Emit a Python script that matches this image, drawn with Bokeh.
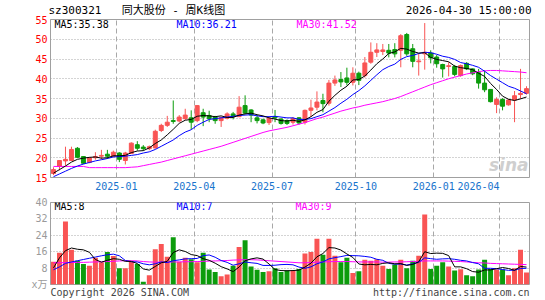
from bokeh.plotting import figure
from bokeh.models import Range1d, FixedTicker, Label, ColumnDataSource, LinearAxis
from bokeh.layouts import column
from bokeh.embed import file_html
from bokeh.resources import INLINE

# ---------------- data (weekly, 80 bars) ----------------
opens = [16.0, 17.8, 19.2, 19.3, 22.4, 20.3, 18.8, 20.0, 20.4, 20.9,
         20.4, 21.2, 19.3, 21.1, 23.3, 22.7, 22.3, 22.5, 26.9, 28.2,
         29.4, 29.3, 29.9, 30.1, 29.4, 31.4, 30.7, 30.3, 29.4, 30.0,
         31.1, 30.4, 33.2, 32.1, 30.1, 29.6, 28.9, 30.4, 29.8, 29.4,
         29.0, 30.1, 29.0, 32.0, 32.8, 34.5, 33.8, 38.9, 39.8, 40.2,
         39.1, 41.4, 40.8, 44.2, 46.7, 46.9, 47.2, 47.4, 47.2, 51.2,
         47.6, 44.3, 46.3, 46.5, 45.5, 43.6, 43.1, 43.1, 40.8, 43.9,
         42.5, 41.5, 38.9, 37.3, 33.5, 34.75, 33.4, 34.6, 36.0, 36.3]
highs = [17.6, 19.4, 22.8, 22.8, 22.7, 20.4, 20.2, 21.4, 22.0, 22.0,
         21.8, 21.4, 21.5, 23.9, 24.2, 23.2, 23.1, 27.1, 28.6, 30.6,
         34.5, 30.8, 32.4, 32.0, 33.3, 32.4, 31.9, 30.6, 30.4, 31.5,
         31.6, 35.6, 35.8, 32.3, 30.8, 29.9, 30.3, 32.1, 30.0, 29.7,
         30.3, 30.3, 32.2, 34.7, 36.8, 36.2, 39.7, 40.8, 41.7, 42.8,
         42.9, 41.8, 45.5, 49.2, 49.0, 48.8, 48.8, 49.0, 51.3, 51.6,
         48.8, 46.3, 54.1, 47.2, 46.0, 43.8, 44.2, 43.5, 43.6, 44.2,
         42.6, 42.5, 42.1, 37.4, 35.3, 35.1, 34.9, 36.9, 42.5, 38.1]
lows = [15.6, 16.8, 18.0, 19.2, 19.9, 18.4, 18.6, 19.5, 19.6, 19.7,
        20.2, 18.9, 18.3, 21.0, 21.8, 21.8, 21.9, 22.3, 26.5, 27.8,
        28.6, 29.0, 29.6, 27.2, 29.0, 28.0, 29.0, 28.6, 27.8, 29.7,
        29.7, 30.3, 31.0, 29.0, 28.7, 28.5, 28.3, 29.0, 28.4, 28.3,
        28.4, 28.4, 28.4, 30.3, 32.0, 31.5, 33.2, 38.2, 37.9, 38.3,
        38.3, 38.4, 40.3, 43.8, 45.5, 46.0, 45.4, 45.4, 42.9, 45.8,
        42.9, 40.8, 42.3, 43.9, 42.8, 40.3, 40.6, 40.6, 40.5, 42.2,
        40.9, 37.5, 36.6, 34.0, 31.3, 32.0, 33.2, 29.0, 34.9, 36.0]
closes = [17.0, 19.3, 19.6, 22.1, 20.1, 18.6, 20.0, 20.3, 20.6, 20.4,
          21.4, 19.6, 21.2, 23.7, 22.4, 22.3, 22.8, 26.7, 28.2, 29.0,
          29.2, 30.3, 30.8, 29.0, 33.2, 30.3, 29.9, 29.4, 30.1, 31.1,
          30.4, 32.8, 31.3, 30.8, 29.4, 28.8, 30.0, 30.1, 28.7, 28.7,
          29.9, 28.8, 32.0, 32.6, 34.1, 33.7, 38.9, 39.7, 39.2, 39.1,
          41.4, 39.6, 44.0, 46.7, 47.3, 47.3, 46.5, 46.3, 50.9, 46.3,
          44.4, 44.5, 46.7, 45.3, 43.8, 42.5, 43.3, 41.1, 43.35, 42.5,
          41.25, 38.9, 37.2, 34.2, 34.75, 33.05, 34.6, 35.7, 36.3, 37.5]
ma5 = [16.1, 17.0, 17.9, 18.9, 19.6, 19.9, 20.1, 20.2, 19.9, 20.0,
       20.5, 20.5, 20.6, 21.3, 21.7, 21.8, 22.5, 23.6, 24.5, 25.8,
       27.2, 28.7, 29.5, 29.7, 30.5, 30.7, 30.6, 30.4, 30.6, 30.2,
       30.2, 30.8, 31.1, 31.3, 30.9, 30.6, 30.1, 29.8, 29.4, 29.3,
       29.5, 29.2, 29.6, 30.4, 31.5, 32.2, 34.3, 35.8, 37.1, 38.1,
       39.7, 39.8, 40.7, 42.2, 43.8, 45.0, 46.4, 46.8, 47.7, 47.5,
       46.9, 46.5, 46.6, 45.4, 44.9, 44.6, 44.3, 43.2, 42.8, 42.6,
       42.3, 41.4, 40.6, 38.8, 37.3, 35.6, 34.8, 34.5, 34.9, 35.38]
ma10 = [15.2, 15.9, 16.6, 17.3, 17.9, 18.4, 18.8, 19.2, 19.5, 19.8,
        20.2, 20.3, 20.4, 20.6, 20.8, 21.2, 21.5, 22.1, 22.9, 23.7,
        24.5, 25.6, 26.5, 27.1, 28.2, 29.0, 29.7, 29.9, 30.1, 30.3,
        30.5, 30.7, 30.8, 30.9, 30.6, 30.4, 30.4, 30.5, 30.3, 30.1,
        30.1, 29.7, 29.7, 29.9, 30.4, 30.9, 31.8, 32.7, 33.8, 34.8,
        36.0, 37.0, 38.2, 39.6, 41.0, 42.3, 43.1, 43.7, 44.9, 45.6,
        45.9, 46.4, 46.7, 46.6, 46.2, 45.7, 45.4, 44.9, 44.1, 43.8,
        43.4, 42.9, 41.9, 40.8, 39.9, 39.0, 38.1, 37.6, 36.9, 36.21]
ma30 = [17.8, 17.8, 17.8, 17.8, 17.8, 17.8, 17.5, 17.5, 17.5, 17.5,
        17.5, 17.5, 17.5, 17.6, 17.7, 18.0, 18.3, 18.6, 18.9, 19.3,
        19.7, 20.1, 20.5, 20.9, 21.3, 21.7, 22.1, 22.5, 22.9, 23.4,
        23.9, 24.4, 24.9, 25.4, 25.9, 26.4, 26.8, 27.1, 27.4, 27.7,
        28.1, 28.5, 28.9, 29.4, 29.9, 30.3, 30.8, 31.3, 31.8, 32.2,
        32.6, 32.9, 33.3, 33.6, 33.9, 34.2, 34.6, 35.0, 35.5, 36.1,
        36.7, 37.3, 37.9, 38.5, 39.0, 39.5, 40.0, 40.4, 40.8, 41.2,
        41.5, 41.8, 42.0, 42.1, 42.1, 42.0, 41.9, 41.8, 41.7, 41.52]
volumes = [11.1, 15.5, 30.7, 16.9, 11.6, 10.0, 9.2, 13.1, 10.8, 15.9,
           13.9, 7.9, 7.9, 11.1, 10.0, 1.3, 4.5, 17.2, 19.8, 13.5,
           23.1, 11.1, 13.1, 12.3, 10.8, 15.5, 7.3, 6.1, 4.0, 4.9,
           9.1, 18.3, 21.6, 8.8, 7.2, 6.1, 6.5, 7.9, 6.1, 6.8,
           6.8, 7.6, 15.1, 15.9, 22.3, 14.5, 22.3, 14.0, 10.8, 13.1,
           5.6, 6.5, 12.1, 11.6, 12.3, 9.2, 7.6, 9.7, 12.1, 7.9,
           11.6, 14.0, 34.2, 7.6, 9.2, 10.8, 8.8, 6.8, 7.5, 4.5,
           4.0, 7.3, 12.1, 7.6, 7.3, 7.3, 4.5, 7.9, 16.9, 5.9]
vol_ma5 = [8.1, 13.0, 16.5, 17.8, 17.2, 16.9, 15.7, 12.2, 10.9, 11.8,
           12.6, 12.3, 11.3, 11.3, 10.2, 7.6, 7.0, 8.8, 10.6, 11.3,
           15.6, 16.9, 16.1, 14.6, 14.1, 12.6, 11.8, 10.4, 8.7, 7.6,
           6.3, 8.5, 11.6, 12.5, 13.0, 12.4, 10.0, 7.3, 6.8, 6.7,
           6.8, 7.0, 8.5, 10.4, 13.5, 15.1, 18.0, 17.8, 16.8, 14.9,
           13.2, 10.0, 9.6, 9.8, 9.6, 10.3, 10.6, 10.1, 10.2, 9.3,
           9.8, 11.1, 16.0, 15.1, 15.3, 15.2, 14.1, 8.6, 8.6, 7.7,
           6.3, 6.0, 7.1, 7.1, 7.7, 8.3, 7.8, 6.9, 8.8, 8.5]
vol_ma10 = [7.2, 8.6, 10.3, 11.0, 11.6, 12.2, 12.8, 13.4, 14.0, 14.5,
            14.8, 14.0, 11.7, 11.1, 11.0, 10.1, 9.6, 10.1, 11.0, 10.7,
            11.6, 12.0, 12.5, 12.6, 12.7, 14.1, 14.4, 13.3, 11.7, 10.8,
            9.4, 10.1, 11.0, 10.6, 10.3, 9.3, 9.3, 9.4, 9.7, 9.8,
            9.6, 8.5, 7.9, 8.6, 10.1, 11.0, 12.5, 13.1, 13.6, 14.2,
            14.1, 14.0, 13.7, 13.3, 12.3, 11.8, 10.3, 9.9, 10.0, 9.5,
            10.1, 10.8, 13.0, 12.6, 12.3, 12.5, 12.6, 12.3, 11.8, 11.5,
            10.7, 10.1, 7.9, 7.9, 7.7, 7.3, 6.9, 7.0, 7.8, 7.9]
vol_ma30 = [10.6, 10.6, 10.7, 10.7, 10.8, 10.8, 10.9, 11.0, 11.1, 11.2,
            11.3, 11.5, 11.6, 11.6, 11.5, 11.2, 11.0, 10.9, 10.9, 10.9,
            11.0, 11.0, 11.1, 11.1, 11.2, 11.3, 11.4, 11.5, 11.6, 11.7,
            11.9, 12.0, 12.1, 12.1, 12.0, 11.8, 11.6, 11.4, 11.2, 11.0,
            10.8, 10.6, 10.6, 10.7, 10.9, 11.0, 11.1, 11.2, 11.2, 11.2,
            11.1, 11.0, 11.0, 11.0, 11.0, 10.9, 10.9, 11.0, 11.0, 11.1,
            11.2, 11.3, 11.5, 11.5, 11.5, 11.5, 11.4, 11.3, 11.2, 11.0,
            10.8, 10.6, 10.5, 10.3, 10.2, 10.1, 10.0, 9.9, 9.8, 9.7]
tick_idx = [11, 24, 37, 51, 64, 75]
tick_labels = ["2025-01", "2025-04", "2025-07", "2025-10", "2026-01", "2026-04"]
price_ticks = [15, 20, 25, 30, 35, 40, 45, 50, 55]
vol_ticks = [0, 8, 16, 24, 32, 40]
vol_unit = "x万"
code = "sz300321"
name = "同大股份 - 周K线图"
stamp = "2026-04-30 15:00:00"
copyright_txt = "Copyright 2026 SINA.COM"
site_txt = "http://finance.sina.com.cn"

# ---------------- styling ----------------
RED = "#f95454"
GREEN = "#0c9c0c"
BLUE_TXT = "#1874cd"
FRAME = "#a0a0a0"
GRID = "#a8a8a8"
MONO = "DejaVu Sans Mono"
MONO_CJK = "DejaVu Sans Mono, Noto Sans CJK SC"
W = 545
L_B, R_B = 50, 16
H1, TOP1, BOT1 = 195, 19, 18
H2, TOP2, BOT2 = 105, 7, 15
ADV = 0.602  # monospace advance per em

n = len(closes)
xs = [i + 0.5 for i in range(n)]
colors = [RED if c >= o else GREEN for o, c in zip(opens, closes)]
src = ColumnDataSource(dict(
    x=xs, o=opens, h=highs, l=lows, c=closes,
    top=[max(o, c) for o, c in zip(opens, closes)],
    bot=[min(o, c) for o, c in zip(opens, closes)],
    color=colors, vol=volumes,
    ma5=ma5, ma10=ma10, ma30=ma30,
    vma5=vol_ma5, vma10=vol_ma10, vma30=vol_ma30))

fw = W - L_B - R_B
ppu = fw / n  # pixels per bar


def fx(px):
    return (px - L_B) / ppu


p1lo, p1hi = price_ticks[0], price_ticks[-1]


def fy1(py):
    return p1hi - (py - TOP1) * (p1hi - p1lo) / (H1 - TOP1 - BOT1)


v2lo, v2hi = vol_ticks[0], vol_ticks[-1]


def fy2(py):
    return v2hi - (py - (H1 + TOP2)) * (v2hi - v2lo) / (H2 - TOP2 - BOT2)


def text_w(s, size):
    return len(s) * ADV * size


def style_common(p):
    p.outline_line_color = FRAME
    p.outline_line_width = 1
    p.background_fill_color = "white"
    p.border_fill_color = "white"
    p.yaxis.major_tick_line_color = None
    p.yaxis.minor_tick_line_color = None
    p.yaxis.axis_line_color = FRAME
    p.yaxis.major_label_text_font = MONO_CJK
    p.yaxis.major_label_text_font_size = "10px"
    p.yaxis.major_label_standoff = 3
    p.yaxis.major_tick_out = 0
    p.yaxis.major_tick_in = 0


def text_axis(ax, color, font, size, standoff):
    ax.axis_line_color = None
    ax.major_tick_line_color = None
    ax.minor_tick_line_color = None
    ax.major_tick_out = 0
    ax.major_tick_in = 0
    ax.major_label_standoff = standoff
    ax.major_label_text_color = color
    ax.major_label_text_font = font
    ax.major_label_text_font_size = "%dpx" % size


# ---------------- price panel ----------------
p1 = figure(width=W, height=H1, x_range=Range1d(0, n), y_range=Range1d(p1lo, p1hi),
            output_backend="svg", toolbar_location=None, title=None,
            min_border_left=L_B, min_border_right=R_B,
            min_border_top=TOP1, min_border_bottom=BOT1)
style_common(p1)
p1.yaxis.ticker = FixedTicker(ticks=price_ticks)
p1.yaxis.major_label_text_color = "#ff0000"
p1.ygrid.ticker = FixedTicker(ticks=price_ticks[1:-1])
p1.ygrid.grid_line_color = GRID
p1.ygrid.grid_line_dash = "1 2"
p1.xgrid.ticker = FixedTicker(ticks=tick_idx)
p1.xgrid.grid_line_color = GRID
p1.xgrid.grid_line_dash = "5 3"

# date labels: centred on their grid line, the last one ends at its line
date_pos = list(tick_idx[:-1]) + [tick_idx[-1] - text_w(tick_labels[-1], 10) / 2 / ppu]
p1.xaxis.ticker = FixedTicker(ticks=date_pos)
p1.xaxis.major_label_overrides = {pos: lab for pos, lab in zip(date_pos, tick_labels)}
text_axis(p1.xaxis[0], BLUE_TXT, MONO, 10, 4)

# header line as an axis above the price panel
hdr_texts = [code, name, stamp]
hdr_pos = [fx(48) + text_w(code, 11) / 2 / ppu,
           fx(173),
           fx(531) - text_w(stamp, 11) / 2 / ppu]
hdr = LinearAxis(ticker=FixedTicker(ticks=hdr_pos),
                 major_label_overrides={pos: t for pos, t in zip(hdr_pos, hdr_texts)})
text_axis(hdr, "black", MONO_CJK, 11, 3)
p1.add_layout(hdr, "above")

p1.segment(x0="x", y0="l", x1="x", y1="h", line_color="color", line_width=1, source=src)
p1.vbar(x="x", width=0.66, top="top", bottom="bot", fill_color="color",
        line_color="color", line_width=1, source=src)
p1.line("x", "ma30", line_color="#ff00ff", line_width=1, source=src)
p1.line("x", "ma10", line_color="#0000ff", line_width=1, source=src)
p1.line("x", "ma5", line_color="#000000", line_width=1, source=src)

for px, txt, col in [(54, "MA5:%.2f" % ma5[-1], "black"),
                     (176, "MA10:%.2f" % ma10[-1], "#0000ff"),
                     (296, "MA30:%.2f" % ma30[-1], "#ff00ff")]:
    p1.add_layout(Label(x=fx(px), y=fy1(24), text=txt, text_align="left",
                        text_baseline="middle", text_font=MONO,
                        text_font_size="10px", text_color=col))
p1.add_layout(Label(x=fx(528), y=fy1(174), text="sina", text_align="right",
                    text_baseline="bottom", text_font="DejaVu Sans",
                    text_font_style="bold italic", text_font_size="17px",
                    text_color="#cfcfcf"))

# ---------------- volume panel ----------------
p2 = figure(width=W, height=H2, x_range=p1.x_range, y_range=Range1d(v2lo, v2hi),
            output_backend="svg", toolbar_location=None, title=None,
            min_border_left=L_B, min_border_right=R_B,
            min_border_top=TOP2, min_border_bottom=BOT2)
style_common(p2)
p2.yaxis.ticker = FixedTicker(ticks=vol_ticks)
p2.yaxis.major_label_overrides = {vol_ticks[0]: vol_unit}
p2.yaxis.major_label_text_color = "#9a9a9a"
p2.ygrid.ticker = FixedTicker(ticks=vol_ticks[1:-1])
p2.ygrid.grid_line_color = GRID
p2.ygrid.grid_line_dash = "1 2"
p2.xgrid.ticker = FixedTicker(ticks=tick_idx)
p2.xgrid.grid_line_color = GRID
p2.xgrid.grid_line_dash = "5 3"

# footer line as the axis below the volume panel
ftr_texts = [copyright_txt, site_txt]
ftr_pos = [text_w(copyright_txt, 10) / 2 / ppu, n - text_w(site_txt, 10) / 2 / ppu]
p2.xaxis.ticker = FixedTicker(ticks=ftr_pos)
p2.xaxis.major_label_overrides = {pos: t for pos, t in zip(ftr_pos, ftr_texts)}
text_axis(p2.xaxis[0], "#444444", MONO, 10, 2)

p2.vbar(x="x", width=0.83, top="vol", bottom=0, fill_color="color",
        line_color=None, source=src)
p2.line("x", "vma30", line_color="#ff00ff", line_width=1, source=src)
p2.line("x", "vma10", line_color="#0000ff", line_width=1, source=src)
p2.line("x", "vma5", line_color="#000000", line_width=1, source=src)

for px, txt, col in [(54, "MA5:%d" % int(vol_ma5[-1]), "black"),
                     (176, "MA10:%d" % int(vol_ma10[-1]), "#0000ff"),
                     (295, "MA30:%d" % int(vol_ma30[-1]), "#ff00ff")]:
    p2.add_layout(Label(x=fx(px), y=fy2(H1 + 11), text=txt, text_align="left",
                        text_baseline="middle", text_font=MONO,
                        text_font_size="10px", text_color=col))

layout = column(p1, p2, spacing=0)
open("out.html", "w").write(file_html(layout, INLINE))
